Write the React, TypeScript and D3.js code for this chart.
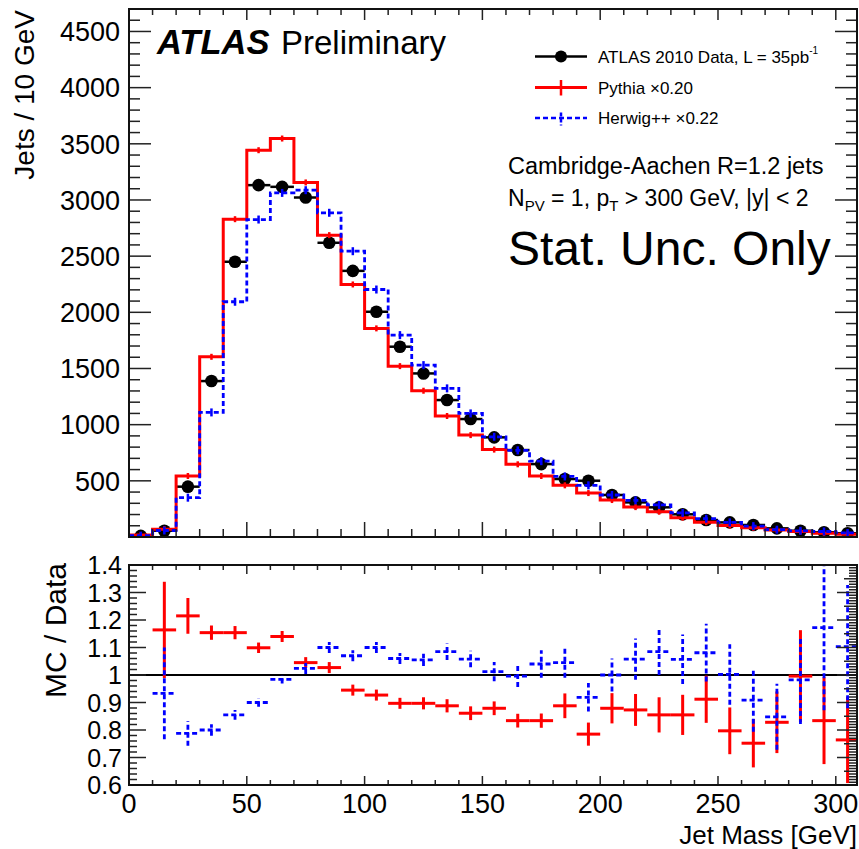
import React from "react";
import * as d3 from "d3";

// ---- data ----
const massCenters = [5, 15, 25, 35, 45, 55, 65, 75, 85, 95, 105, 115, 125, 135, 145, 155, 165, 175, 185, 195, 205, 215, 225, 235, 245, 255, 265, 275, 285, 295, 305];
const dataCounts = [10, 56, 448, 1388, 2450, 3132, 3117, 3022, 2619, 2369, 2005, 1694, 1456, 1219, 1050, 887, 774, 649, 516, 501, 374, 308, 264, 202, 151, 130, 107, 77, 56, 42, 33];
const pythiaCounts = [18, 70, 543, 1604, 2829, 3443, 3547, 3156, 2687, 2248, 1857, 1521, 1302, 1077, 907, 778, 647, 543, 460, 391, 329, 266, 225, 172, 132, 102, 82, 63, 50, 34, 25];
const herwigCounts = [12, 58, 350, 1109, 2094, 2826, 3063, 3087, 2886, 2544, 2203, 1797, 1530, 1323, 1100, 892, 771, 675, 539, 460, 374, 326, 286, 214, 163, 130, 97, 65, 55, 49, 36];

const ratioCenters = [15, 25, 35, 45, 55, 65, 75, 85, 95, 105, 115, 125, 135, 145, 155, 165, 175, 185, 195, 205, 215, 225, 235, 245, 255, 265, 275, 285, 295, 305];
const pythiaRatio = [1.164, 1.215, 1.154, 1.154, 1.099, 1.14, 1.045, 1.027, 0.945, 0.927, 0.897, 0.897, 0.888, 0.861, 0.879, 0.834, 0.834, 0.888, 0.785, 0.879, 0.873, 0.855, 0.855, 0.912, 0.797, 0.752, 0.828, 0.996, 0.834, 0.764];
const pythiaRatioErr = [0.175, 0.065, 0.026, 0.024, 0.019, 0.02, 0.02, 0.02, 0.02, 0.02, 0.02, 0.022, 0.024, 0.025, 0.025, 0.025, 0.026, 0.045, 0.042, 0.055, 0.058, 0.064, 0.073, 0.086, 0.085, 0.088, 0.112, 0.167, 0.158, 0.157];
const herwigRatio = [0.933, 0.788, 0.8, 0.855, 0.9, 0.984, 1.024, 1.1, 1.07, 1.1, 1.06, 1.055, 1.085, 1.058, 1.012, 0.996, 1.04, 1.045, 0.919, 1.0, 1.058, 1.085, 1.057, 1.081, 1.002, 0.909, 0.848, 0.982, 1.172, 1.103];
const herwigRatioErr = [0.167, 0.045, 0.021, 0.018, 0.015, 0.015, 0.02, 0.02, 0.02, 0.02, 0.02, 0.022, 0.03, 0.03, 0.035, 0.04, 0.05, 0.055, 0.052, 0.06, 0.075, 0.085, 0.09, 0.105, 0.11, 0.115, 0.12, 0.16, 0.3, 0.224];

const binWidth = 10;
const upperYTicks = [500, 1000, 1500, 2000, 2500, 3000, 3500, 4000, 4500];
const ratioYTicks = [0.6, 0.7, 0.8, 0.9, 1.0, 1.1, 1.2, 1.3, 1.4];
const ratioYLabels = ["0.6", "0.7", "0.8", "0.9", "1", "1.1", "1.2", "1.3", "1.4"];
const xTicks = [0, 50, 100, 150, 200, 250, 300];

// ---- layout ----
const W = 859, H = 849;
const L = 129, R = 857;
const UT = 9, UB = 537;
const LT = 565, LB = 785;
const FONT = "'Liberation Sans', Arial, Helvetica, sans-serif";
const RED = "#ff0000";
const BLUE = "#0000ff";
const DASH = "5,3";

export default function App() {
  const x = d3.scaleLinear().domain([0, 309]).range([L, R]);
  const yU = d3.scaleLinear().domain([0, 4700]).range([UB, UT]);
  const yR = d3.scaleLinear().domain([0.6, 1.4]).range([LB, LT]);

  const stepPts = (vals: number[]) => {
    const pts: [number, number][] = [];
    vals.forEach((v, i) => {
      const c = massCenters[i];
      pts.push([x(c - binWidth / 2), yU(v)]);
      pts.push([x(c + binWidth / 2), yU(v)]);
    });
    return d3.line()(pts) || "";
  };

  const near = (a: number, b: number) => Math.abs(a - b) < 1e-6;

  const upperYMinor = d3.range(100, 4701, 100);
  const xMinor = d3.range(10, 309, 10);
  const ratioLeftTicks = d3.range(0.62, 1.4, 0.02);
  const ratioRightTicks = d3.range(0.61, 1.4, 0.01);

  const tickStroke = "#222";

  return (
    <svg width={W} height={H} style={{ position: "fixed", left: 0, top: 0, background: "#fff" }} fontFamily={FONT}>
      <defs>
        <clipPath id="clipU"><rect x={L} y={UT} width={R - L} height={UB - UT} /></clipPath>
        <clipPath id="clipR"><rect x={L} y={LT} width={R - L} height={LB - LT} /></clipPath>
      </defs>
      <rect x={0} y={0} width={W} height={H} fill="#fff" />

      {/* ===== upper panel ===== */}
      <g clipPath="url(#clipU)">
        {massCenters.map((c, i) => (
          <g key={"d" + i}>
            <line x1={x(c - binWidth / 2)} x2={x(c + binWidth / 2)} y1={yU(dataCounts[i])} y2={yU(dataCounts[i])} stroke="#000" strokeWidth={2.5} />
            <circle cx={x(c)} cy={yU(dataCounts[i])} r={6.3} fill="#000" />
          </g>
        ))}
        <path d={stepPts(pythiaCounts)} fill="none" stroke={RED} strokeWidth={3} />
        {massCenters.map((c, i) => (
          <line key={"pe" + i} x1={x(c)} x2={x(c)} y1={yU(pythiaCounts[i]) - 3} y2={yU(pythiaCounts[i]) + 3} stroke={RED} strokeWidth={2.5} />
        ))}
        <path d={stepPts(herwigCounts)} fill="none" stroke={BLUE} strokeWidth={2.8} strokeDasharray={DASH} />
        {massCenters.map((c, i) => (
          <line key={"he" + i} x1={x(c)} x2={x(c)} y1={yU(herwigCounts[i]) - 4} y2={yU(herwigCounts[i]) + 4} stroke={BLUE} strokeWidth={2.5} />
        ))}
      </g>

      <g stroke={tickStroke} strokeWidth={1.5}>
        {upperYMinor.map((v) => {
          const major = upperYTicks.some((t) => near(t, v));
          const len = major ? 22 : 11;
          return (
            <g key={"uy" + v}>
              <line x1={L} x2={L + len} y1={yU(v)} y2={yU(v)} />
              <line x1={R} x2={R - len} y1={yU(v)} y2={yU(v)} />
            </g>
          );
        })}
        {xMinor.map((v) => {
          const major = v % 50 === 0;
          return (
            <g key={"ux" + v}>
              <line x1={x(v)} x2={x(v)} y1={UB} y2={UB - (major ? 15 : 8)} />
              <line x1={x(v)} x2={x(v)} y1={UT} y2={UT + (major ? 11 : 6)} />
            </g>
          );
        })}
      </g>
      <rect x={L} y={UT} width={R - L} height={UB - UT} fill="none" stroke="#111" strokeWidth={2} />

      {upperYTicks.map((v) => (
        <text key={"uyl" + v} x={120} y={yU(v)} dy="0.36em" textAnchor="end" fontSize={27} fill="#000">{v}</text>
      ))}
      <text transform="translate(34,10) rotate(-90)" textAnchor="end" fontSize={28} fill="#000">Jets / 10 GeV</text>

      <text x={157} y={54} fontSize={33} fill="#000">
        <tspan fontWeight="bold" fontStyle="italic" fontSize={34.5}>ATLAS</tspan>
        <tspan x={281}>Preliminary</tspan>
      </text>

      <g>
        <line x1={535} x2={587} y1={56.5} y2={56.5} stroke="#000" strokeWidth={2.5} />
        <circle cx={561} cy={56.5} r={6} fill="#000" />
        <text x={598} y={62.5} fontSize={17} fill="#000">
          ATLAS 2010 Data, L = 35pb<tspan fontSize={10} dy={-9}>-1</tspan>
        </text>
        <line x1={535} x2={587} y1={87.5} y2={87.5} stroke={RED} strokeWidth={3} />
        <line x1={561} x2={561} y1={80} y2={95.5} stroke={RED} strokeWidth={2.5} />
        <text x={598} y={93.5} fontSize={17} fill="#000">Pythia ×0.20</text>
        <line x1={535} x2={587} y1={118} y2={118} stroke={BLUE} strokeWidth={2.5} strokeDasharray={DASH} />
        <line x1={561} x2={561} y1={112.5} y2={125.5} stroke={BLUE} strokeWidth={2.5} strokeDasharray="4,2" />
        <text x={598} y={124} fontSize={17} fill="#000">Herwig++ ×0.22</text>
      </g>

      <text x={508} y={174} fontSize={23.5} fill="#000">Cambridge-Aachen R=1.2 jets</text>
      <text x={508} y={206} fontSize={23} fill="#000">
        N<tspan fontSize={15} dy={5}>PV</tspan><tspan dy={-5}> = 1, p</tspan><tspan fontSize={15} dy={5}>T</tspan><tspan dy={-5}> &gt; 300 GeV, |y| &lt; 2</tspan>
      </text>
      <text x={508} y={265} fontSize={48} fill="#000">Stat. Unc. Only</text>

      {/* ===== ratio panel ===== */}
      <line x1={L} x2={R} y1={yR(1)} y2={yR(1)} stroke="#000" strokeWidth={2} />
      <g clipPath="url(#clipR)">
        {ratioCenters.map((c, i) => (
          <g key={"pr" + i} stroke={RED} strokeWidth={3}>
            <line x1={x(c - binWidth / 2)} x2={x(c + binWidth / 2)} y1={yR(pythiaRatio[i])} y2={yR(pythiaRatio[i])} />
            <line x1={x(c)} x2={x(c)} y1={yR(pythiaRatio[i] - pythiaRatioErr[i])} y2={yR(pythiaRatio[i] + pythiaRatioErr[i])} />
          </g>
        ))}
        {ratioCenters.map((c, i) => (
          <g key={"hr" + i} stroke={BLUE} strokeWidth={2.8} strokeDasharray={DASH}>
            <line x1={x(c - binWidth / 2)} x2={x(c + binWidth / 2)} y1={yR(herwigRatio[i])} y2={yR(herwigRatio[i])} />
            <line x1={x(c)} x2={x(c)} y1={yR(herwigRatio[i] - herwigRatioErr[i])} y2={yR(herwigRatio[i] + herwigRatioErr[i])} />
          </g>
        ))}
      </g>

      <g stroke={tickStroke} strokeWidth={1.5}>
        {ratioLeftTicks.map((v) => {
          const major = ratioYTicks.some((t) => near(t, v));
          return <line key={"rl" + v.toFixed(2)} x1={L} x2={L + (major ? 17 : 8)} y1={yR(v)} y2={yR(v)} />;
        })}
        {ratioRightTicks.map((v) => {
          const major = ratioYTicks.some((t) => near(t, v));
          const mid = Math.abs(v * 20 - Math.round(v * 20)) < 1e-6;
          return <line key={"rr" + v.toFixed(2)} x1={R} x2={R - (major ? 20 : mid ? 13 : 8)} y1={yR(v)} y2={yR(v)} />;
        })}
        {xMinor.map((v) => {
          const major = v % 50 === 0;
          return (
            <g key={"rx" + v}>
              <line x1={x(v)} x2={x(v)} y1={LB} y2={LB - (major ? 9 : 5)} />
              <line x1={x(v)} x2={x(v)} y1={LT} y2={LT + (major ? 9 : 5)} />
            </g>
          );
        })}
      </g>
      <rect x={L} y={LT} width={R - L} height={LB - LT} fill="none" stroke="#111" strokeWidth={2} />

      {ratioYTicks.map((v, i) => (
        <text key={"ryl" + i} x={122} y={yR(v)} dy="0.36em" textAnchor="end" fontSize={25} fill="#000">{ratioYLabels[i]}</text>
      ))}
      {xTicks.map((v) => (
        <text key={"xl" + v} x={x(v)} y={813} textAnchor="middle" fontSize={27} fill="#000">{v}</text>
      ))}
      <text x={857} y={844} textAnchor="end" fontSize={26} fill="#000">Jet Mass [GeV]</text>
      <text transform="translate(66,563) rotate(-90)" textAnchor="end" fontSize={30} fill="#000">MC / Data</text>
    </svg>
  );
}
